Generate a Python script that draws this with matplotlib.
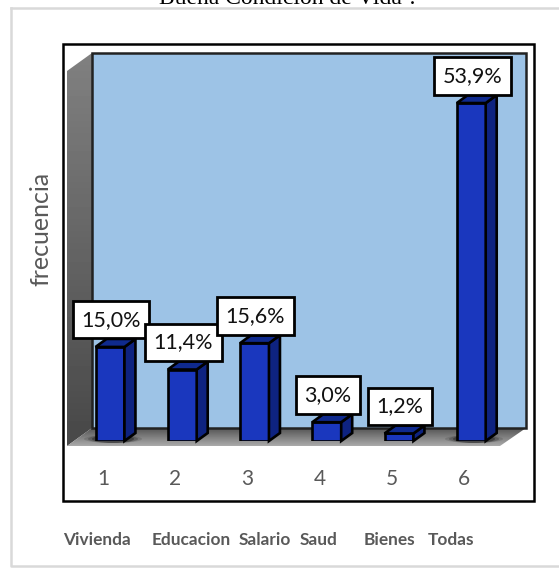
import numpy as np
import matplotlib
matplotlib.use('Agg')
import matplotlib.pyplot as plt
from matplotlib.patches import Polygon, Rectangle, Ellipse
from matplotlib.transforms import IdentityTransform, Affine2D

# data
categories = [1, 2, 3, 4, 5, 6]
values = [15.0, 11.4, 15.6, 3.0, 1.2, 53.9]
value_labels = ['15,0%', '11,4%', '15,6%', '3,0%', '1,2%', '53,9%']
names = ['Vivienda', 'Educacion', 'Salario', 'Saud', 'Bienes', 'Todas']
names_left = [63, 152, 239, 300, 364, 428]
title = 'Buena Condición de Vida ?'

W, H = 559, 568
GREY = '#595959'
DX, DY = 11, 8

fig = plt.figure(figsize=(W/100, H/100), dpi=100, facecolor='white')

# background axes in image pixels
bg = fig.add_axes([0, 0, 1, 1])
bg.axis('off')


def gradient(poly, top, bottom):
	xs, ys = zip(*poly)
	grad = np.linspace(top, bottom, 64).reshape(-1, 1)
	im = bg.imshow(grad, cmap='gray', vmin=0, vmax=255, aspect='auto', zorder=2,
		extent=[min(xs), max(xs), max(ys), min(ys)])
	patch = Polygon(poly, closed=True, fc='none', ec='none', transform=bg.transData)
	bg.add_patch(patch)
	im.set_clip_path(patch)


# outer border, frame
bg.plot([10.5, 10.5, W], [8, 566, 566], color='#d9d9d9', lw=1.8, zorder=1)
bg.plot([10.5, W], [8, 8], color='#d9d9d9', lw=1.8, zorder=1)
bg.add_patch(Rectangle((62.5, 44), 471, 457, fc='white', ec='black', lw=1.8, zorder=1))

# walls
gradient([(67, 71), (92, 53), (92, 428), (67, 446)], 128, 72)
gradient([(67, 446), (92, 428), (526, 428), (500, 446)], 85, 170)
bg.add_patch(Rectangle((92, 53), 434, 375, fc='#9DC3E6', ec='#222222', lw=1.8, zorder=3))
bg.set_xlim(0, W)
bg.set_ylim(H, 0)

# shadows under the first and last bar
for cx in (113, 474):
	for w, a in ((58, 0.12), (50, 0.2), (42, 0.3)):
		bg.add_patch(Ellipse((cx, 439), w, 8, fc='black', ec='none', alpha=a, zorder=4))

bg.text(289, 3.5, title, family='Liberation Serif', fontsize=17, ha='center', va='baseline', color='black')
bg.text(41, 229, 'frecuencia', family='Lato', fontsize=18, rotation=90, ha='center', va='center', color=GREY)
for name, left in zip(names, names_left):
	bg.text(left, 540, name, family='Lato', fontsize=12.4, fontweight='bold', ha='left', va='center', color=GREY)

# bars
ppx = 72.25
ppy = 6.27
ax = fig.add_axes([(110 - 0.5*ppx)/W, (H - 441)/H, 6*ppx/W, 54*ppy/H])
ax.patch.set_alpha(0)
ax.set_xlim(0.5, 6.5)
ax.set_ylim(0, 54)
for s in ax.spines.values():
	s.set_visible(False)
ax.yaxis.set_visible(False)
ax.set_xticks(categories)
ax.set_xticklabels(categories, family='Lato', fontsize=15, color=GREY)
ax.tick_params(axis='x', length=0, pad=20.5)
# the numbers sit left of the bars
for lab in ax.get_xticklabels():
	lab.set_transform(lab.get_transform() + Affine2D().translate(-7, 0))

bars = ax.bar(categories, values, width=0.4, color='#1A37BE', edgecolor='black', linewidth=1.9, zorder=3)

for bar in bars:
	(x0, y0), (x1, y1) = ax.transData.transform([(bar.get_x(), 0), (bar.get_x() + bar.get_width(), bar.get_height())])
	side = [(x1, y0), (x1 + DX, y0 + DY), (x1 + DX, y1 + DY), (x1, y1)]
	top = [(x0, y1), (x0 + DX, y1 + DY), (x1 + DX, y1 + DY), (x1, y1)]
	ax.add_patch(Polygon(side, closed=True, fc='#0E2380', ec='black', lw=1.9, transform=IdentityTransform(), zorder=4, clip_on=False))
	ax.add_patch(Polygon(top, closed=True, fc='#0F2A8E', ec='black', lw=1.9, transform=IdentityTransform(), zorder=4, clip_on=False))

for cat, val, lab in zip(categories, values, value_labels):
	ax.annotate(lab, xy=(cat, val), xytext=(0.7, 19.5), textcoords='offset points', ha='center', va='center',
		family='Lato', fontsize=15.5, color='#111111', zorder=5, annotation_clip=False,
		bbox=dict(boxstyle='square,pad=0.4', fc='white', ec='black', lw=2))

fig.savefig('out.png', dpi=100)
